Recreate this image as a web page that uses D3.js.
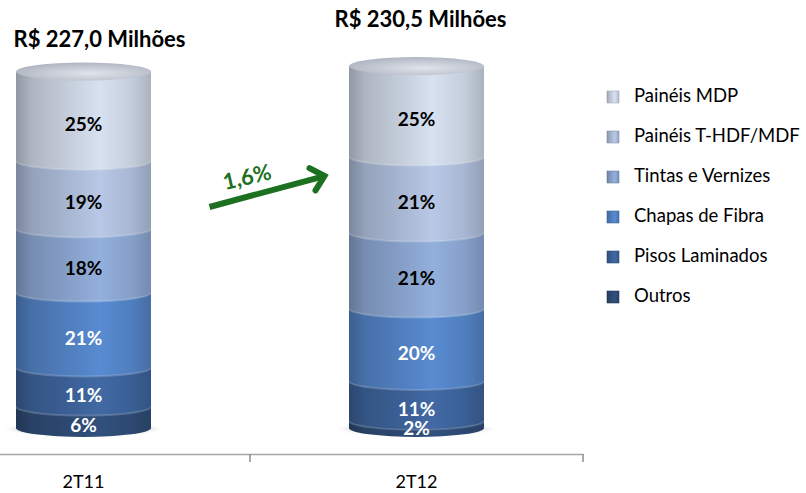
<!DOCTYPE html>
<html>
<head>
    <meta charset="utf-8">
    <script src="https://d3js.org/d3.v7.min.js"></script>
    <style>
        body { margin: 0; background: #fff; }
        text { font-family: Lato, "Open Sans", sans-serif; }
    </style>
</head>
<body>
    <div id="viz"></div>
    <script>
        // data
        var periods = ["2T11", "2T12"];
        var totals = [227.0, 230.5];             // R$ milhões
        var segments = ["Outros", "Pisos Laminados", "Chapas de Fibra",
                        "Tintas e Vernizes", "Painéis T-HDF/MDF", "Painéis MDP"];   // bottom -> top
        var share2T11 = [6, 11, 21, 18, 19, 25];
        var share2T12 = [2, 11, 20, 21, 21, 25];
        var titles = ["R$ 227,0 Milhões", "R$ 230,5 Milhões"];
        var growthLabel = "1,6%";

        var colors = ["#2c4870", "#3a5e93", "#4f7dbc", "#849dc6", "#a5b4cf", "#c2cad8"];
        var darkText = [false, false, false, true, true, true];

        var W = 806, H = 493;
        var svg = d3.select("#viz").append("svg")
            .attr("width", W).attr("height", H);
        var defs = svg.append("defs");

        // scales
        var x = d3.scaleBand().domain(periods).range([-83, 583]);
        var y = d3.scaleLinear().domain([0, 250]).range([428, 428 - 250 * 1.57]);
        var rx = 67.5, ry = 9;

        // gradient for each colour (horizontal, cylinder shading)
        colors.forEach(function (c, i) {
            var g = defs.append("linearGradient").attr("id", "g" + i)
                .attr("x1", "0%").attr("x2", "100%").attr("y1", "0%").attr("y2", "0%");
            var base = d3.color(c);
            g.append("stop").attr("offset", "0%").attr("stop-color", base.darker(0.8));
            g.append("stop").attr("offset", "12%").attr("stop-color", base.darker(0.3));
            g.append("stop").attr("offset", "62%").attr("stop-color", base.brighter(0.3));
            g.append("stop").attr("offset", "85%").attr("stop-color", base.brighter(0.05));
            g.append("stop").attr("offset", "100%").attr("stop-color", base.darker(0.35));
        });
        var topG = defs.append("radialGradient").attr("id", "topg")
            .attr("cx", "55%").attr("cy", "60%").attr("r", "60%");
        topG.append("stop").attr("offset", "0%").attr("stop-color", "#e0e4eb");
        topG.append("stop").attr("offset", "100%").attr("stop-color", "#b0b6c2");
        var shG = defs.append("radialGradient").attr("id", "shadow");
        shG.append("stop").attr("offset", "0%").attr("stop-color", "#8c8c8c");
        shG.append("stop").attr("offset", "60%").attr("stop-color", "#b0b0b0");
        shG.append("stop").attr("offset", "100%").attr("stop-color", "#fff").attr("stop-opacity", 0);

        // build stacked table
        var shares = [share2T11, share2T12];
        var table = [];
        periods.forEach(function (p, pi) {
            var acc = 0;
            segments.forEach(function (s, si) {
                var v = totals[pi] * shares[pi][si] / 100;
                table.push({ period: p, pi: pi, si: si, name: s, pct: shares[pi][si], y0: acc, y1: acc + v });
                acc += v;
            });
        });

        // axis
        var axisG = svg.append("g").attr("transform", "translate(0,454)")
            .call(d3.axisBottom(x).tickSize(0).tickSizeOuter(0).tickPadding(21));
        axisG.select(".domain").attr("stroke", "#a6a6a6").attr("stroke-width", 1.6);
        axisG.selectAll("text").attr("font-size", 18).attr("fill", "#000")
            .attr("font-family", "Lato, sans-serif");
        svg.selectAll(".sep").data(periods).enter().append("line")
            .attr("x1", function (d) { return x(d) + x.bandwidth(); })
            .attr("x2", function (d) { return x(d) + x.bandwidth(); })
            .attr("y1", 454).attr("y2", 462)
            .attr("stroke", "#8c8c8c").attr("stroke-width", 1.5);

        function cx(p) { return x(p) + x.bandwidth() / 2; }

        // shadows
        svg.selectAll(".shadow").data(periods).enter().append("ellipse")
            .attr("cx", function (d) { return cx(d); })
            .attr("cy", y(0) + 1)
            .attr("rx", rx + 16).attr("ry", 8)
            .attr("fill", "url(#shadow)");

        // cylinder segments, drawn bottom to top
        function segPath(d) {
            var c = cx(d.period), l = c - rx, r = c + rx;
            var yt = y(d.y1), yb = y(d.y0);
            return "M" + l + "," + yt + " L" + l + "," + yb +
                " A" + rx + "," + ry + " 0 0 0 " + r + "," + yb +
                " L" + r + "," + yt + " Z";
        }
        svg.selectAll(".seg").data(table).enter().append("path")
            .attr("d", segPath)
            .attr("fill", function (d) { return "url(#g" + d.si + ")"; });
        // soft edge at each boundary
        svg.selectAll(".edge").data(table.filter(function (d) { return d.si > 0; })).enter().append("path")
            .attr("d", function (d) {
                var c = cx(d.period), yb = y(d.y0);
                return "M" + (c - rx) + "," + yb + " A" + rx + "," + ry + " 0 0 0 " + (c + rx) + "," + yb;
            })
            .attr("fill", "none").attr("stroke", "#ffffff").attr("stroke-opacity", 0.18).attr("stroke-width", 2);

        // top caps
        svg.selectAll(".cap").data(periods).enter().append("ellipse")
            .attr("cx", function (d) { return cx(d); })
            .attr("cy", function (d, i) { return y(totals[i]); })
            .attr("rx", rx).attr("ry", ry)
            .attr("fill", "url(#topg)");

        // percentage labels (pushed onto the front face, less for thin slices)
        svg.selectAll(".lbl").data(table).enter().append("text")
            .attr("x", function (d) { return cx(d.period); })
            .attr("y", function (d) {
                var h = y(d.y0) - y(d.y1);
                return y((d.y0 + d.y1) / 2) + Math.min(10, h * 0.8);
            })
            .attr("text-anchor", "middle").attr("dominant-baseline", "middle")
            .attr("font-size", 19).attr("font-weight", "bold")
            .attr("fill", function (d) { return darkText[d.si] ? "#000" : "#fff"; })
            .text(function (d) { return d.pct + "%"; });

        // totals above each cylinder
        var titleDx = [16, 4], titleDy = [-16, -30];
        svg.selectAll(".title").data(periods).enter().append("text")
            .attr("x", function (d, i) { return cx(d) + titleDx[i]; })
            .attr("y", function (d, i) { return y(totals[i]) - ry + titleDy[i]; })
            .attr("text-anchor", "middle")
            .attr("font-size", 22).attr("font-weight", "bold").attr("fill", "#000")
            .text(function (d, i) { return titles[i]; });

        // growth arrow
        var green = "#1d7020";
        var ax0 = cx(periods[0]) + 126, ay0 = 207, ax1 = cx(periods[1]) - 92, ay1 = 176;
        var ang = Math.atan2(ay1 - ay0, ax1 - ax0);
        svg.append("line")
            .attr("x1", ax0).attr("y1", ay0).attr("x2", ax1 - 4 * Math.cos(ang)).attr("y2", ay1 - 4 * Math.sin(ang))
            .attr("stroke", green).attr("stroke-width", 6);
        var hl = 17, ha = 0.75;
        svg.append("path")
            .attr("d", "M" + (ax1 - hl * Math.cos(ang - ha)) + "," + (ay1 - hl * Math.sin(ang - ha)) +
                " L" + ax1 + "," + ay1 +
                " L" + (ax1 - hl * Math.cos(ang + ha)) + "," + (ay1 - hl * Math.sin(ang + ha)))
            .attr("fill", "none").attr("stroke", green).attr("stroke-width", 6)
            .attr("stroke-linejoin", "miter").attr("stroke-linecap", "round");
        svg.append("text")
            .attr("transform", "translate(" + (ax0 + 38) + "," + (ay0 - 28) + ") rotate(-13)")
            .attr("text-anchor", "middle").attr("dominant-baseline", "middle")
            .attr("font-size", 22).attr("font-weight", "bold").attr("fill", green)
            .text(growthLabel);

        // legend (top -> bottom)
        var legendItems = segments.slice().reverse();
        var leg = svg.append("g").attr("transform", "translate(607,97)");
        var rows = leg.selectAll("g").data(legendItems).enter().append("g")
            .attr("transform", function (d, i) { return "translate(0," + i * 40 + ")"; });
        rows.append("rect")
            .attr("x", 0).attr("y", -6).attr("width", 12).attr("height", 12)
            .attr("fill", function (d) { return "url(#g" + segments.indexOf(d) + ")"; })
            .attr("stroke", function (d) { return d3.color(colors[segments.indexOf(d)]).darker(0.5); })
            .attr("stroke-width", 0.6);
        rows.append("text")
            .attr("x", 27).attr("y", 0).attr("dominant-baseline", "middle")
            .attr("font-size", 18.5).attr("fill", "#000")
            .text(function (d) { return d; });
    </script>
</body>
</html>
